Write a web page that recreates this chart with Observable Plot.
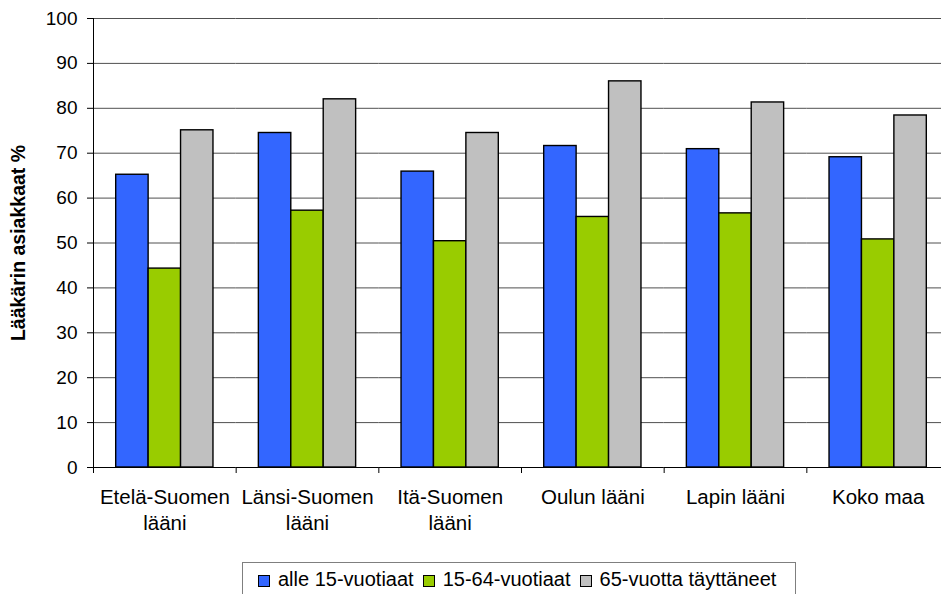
<!DOCTYPE html>
<html>
<head>
<meta charset="utf-8">
<script src="https://cdn.jsdelivr.net/npm/d3@7"></script>
<script src="https://cdn.jsdelivr.net/npm/@observablehq/plot@0.6"></script>
<style>
  html, body { margin: 0; padding: 0; background: #fff; }
  #wrap { position: relative; width: 941px; height: 594px; overflow: hidden; font-family: "Liberation Sans", Arial, sans-serif; }
  #legend {
    position: absolute; left: 242px; top: 562px; height: 40px;
    border: 1px solid #7f7f7f; box-sizing: border-box;
    display: flex; align-items: flex-start; padding: 5px 10px 0 15px;
    font-size: 20px; color: #000; white-space: nowrap; background: #fff;
  }
  #legend .item { display: flex; align-items: center; margin-right: 9px; }
  #legend .sw { width: 10px; height: 10px; border: 1px solid #000; margin-right: 8px; margin-top: 2px; }
</style>
</head>
<body>
<div id="wrap"></div>
<script>
// Regions (x facets) and age groups (bars within each region)
const regions = ["Etelä-Suomen\nlääni", "Länsi-Suomen\nlääni", "Itä-Suomen\nlääni", "Oulun lääni", "Lapin lääni", "Koko maa"];
const groups = ["alle 15-vuotiaat", "15-64-vuotiaat", "65-vuotta täyttäneet"];
const colors = ["#3366ff", "#99cc00", "#c0c0c0"];

// Share of people who visited a physician, %
const under15 = [65.2, 74.5, 65.9, 71.6, 70.9, 69.1];
const age15to64 = [44.3, 57.2, 50.4, 55.8, 56.6, 50.8];
const over65 = [75.1, 82.0, 74.5, 86.0, 81.3, 78.4];

const yTicks = [0, 10, 20, 30, 40, 50, 60, 70, 80, 90, 100];

const series = [under15, age15to64, over65];
const rows = [];
regions.forEach((region, i) => {
  groups.forEach((group, j) => rows.push({region, group, value: series[j][i]}));
});

const font = "Liberation Sans, Arial, sans-serif";

const chart = Plot.plot({
  width: 941,
  height: 556,
  marginTop: 18,
  marginBottom: 89,
  marginLeft: 93,
  marginRight: -8,
  style: {fontFamily: font, fontSize: "19px", color: "#000", background: "#fff", overflow: "hidden"},
  fx: {domain: regions, paddingInner: 0, paddingOuter: 0, round: false},
  x: {domain: groups, paddingInner: 0, paddingOuter: 0.7, round: false, axis: null},
  y: {domain: [0, 100], axis: null},
  color: {domain: groups, range: colors},
  marks: [
    Plot.ruleY(yTicks.filter(d => d > 0), {stroke: "#505050", strokeWidth: 1}),
    Plot.barY(rows, {fx: "region", x: "group", y: "value", fill: "group", stroke: "#000", strokeWidth: 1.4}),
    Plot.ruleY([0], {stroke: "#000", strokeWidth: 1}),
    Plot.axisY({
      ticks: yTicks, tickSize: 6, tickPadding: 10, stroke: "#000",
      fontSize: 19,
      label: "Lääkärin asiakkaat %", labelAnchor: "center", labelArrow: "none", labelOffset: 82
    }),
    Plot.axisFx({anchor: "bottom", tickSize: 0, tickPadding: 18, lineHeight: 1.27, label: null, fontSize: 20.5})
  ]
});

const svg = d3.select(chart);

// Bold axis title
svg.selectAll("[aria-label='y-axis label'] text").attr("font-weight", "bold").attr("font-size", 19.5);

// Left axis line and the tick marks between region bands
const fx = chart.scale("fx");
const yScale = chart.scale("y");
const y0 = yScale.apply(0), y100 = yScale.apply(100);
const x0 = fx.apply(regions[0]);
const ag = svg.append("g").attr("stroke", "#000").attr("stroke-width", 1);
ag.append("line").attr("x1", x0 + 0.5).attr("x2", x0 + 0.5).attr("y1", y100).attr("y2", y0);
const bounds = regions.map(r => fx.apply(r)).concat([fx.apply(regions[regions.length - 1]) + fx.bandwidth]);
bounds.forEach(b => {
  ag.append("line").attr("x1", b + 0.5).attr("x2", b + 0.5).attr("y1", y0).attr("y2", y0 + 6);
});

const wrap = document.getElementById("wrap");
wrap.appendChild(chart);

// Legend box below the chart
const legend = document.createElement("div");
legend.id = "legend";
groups.forEach((g, i) => {
  const item = document.createElement("div");
  item.className = "item";
  const sw = document.createElement("span");
  sw.className = "sw";
  sw.style.background = colors[i];
  const label = document.createElement("span");
  label.textContent = g;
  item.appendChild(sw);
  item.appendChild(label);
  legend.appendChild(item);
});
wrap.appendChild(legend);
</script>
</body>
</html>
